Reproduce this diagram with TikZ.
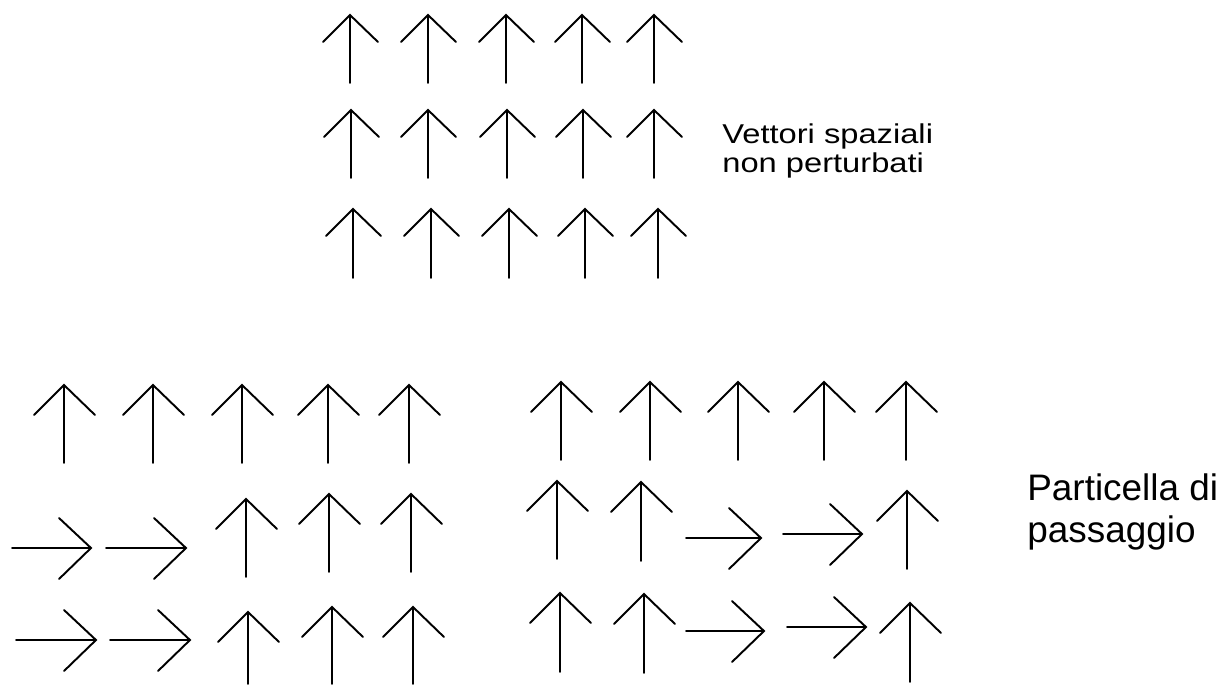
\documentclass[tikz,border=0pt]{standalone}
\usepackage{fontspec}
\setmainfont{Liberation Sans}
\newfontfamily\widesans[FakeStretch=1.2]{Liberation Sans}
\tikzset{vec/.style={line width=1.1pt,line cap=round,line join=miter}}
% up vector: x, tip y, foot y, head size
\newcommand{\vecup}[4]{\draw[vec] (#1-#4,#2+#4)--(#1,#2)--(#1+#4+1,#2+#4) (#1,#2)--(#1,#3);}
% right vector: tail x, tip x, y
\newcommand{\vecright}[3]{\draw[vec] (#2-32,#3-30)--(#2,#3)--(#2-32,#3+31) (#1,#3)--(#2,#3);}
\begin{document}
\begin{tikzpicture}
    [x=0.02cm,y=-0.02cm]
    \useasboundingbox (0,0) rectangle (1225,684);
    %unperturbed field, row 1
    \vecup{350}{15}{83}{27}
    \vecup{428}{15}{83}{27}
    \vecup{506}{15}{83}{27}
    \vecup{582}{15}{83}{27}
    \vecup{654}{15}{83}{27}
    %row 2
    \vecup{351}{110}{178}{27}
    \vecup{428}{110}{178}{27}
    \vecup{507}{110}{178}{27}
    \vecup{583}{110}{178}{27}
    \vecup{654}{110}{178}{27}
    %row 3
    \vecup{353}{209}{278}{27}
    \vecup{431}{209}{278}{27}
    \vecup{509}{209}{278}{27}
    \vecup{585}{209}{278}{27}
    \vecup{658}{209}{278}{27}
    %label top
    \node[anchor=base west,inner sep=0,font=\widesans\fontsize{15.5pt}{17pt}\selectfont] (vett) at (722,143) {Vettori spaziali};
    \node[anchor=base west,inner sep=0,font=\widesans\fontsize{15.5pt}{17pt}\selectfont] (nonpert) at (722,172) {non perturbati};
    %left field, row 1
    \vecup{64}{385}{463}{30}
    \vecup{153}{385}{463}{30}
    \vecup{242}{385}{463}{30}
    \vecup{328}{385}{463}{30}
    \vecup{409}{385}{463}{30}
    %row 2
    \vecright{12}{91}{548}
    \vecright{106}{186}{548}
    \vecup{246}{499}{577}{30}
    \vecup{329}{494}{572}{30}
    \vecup{411}{494}{572}{30}
    %row 3
    \vecright{16}{96}{640}
    \vecright{110}{190}{640}
    \vecup{248}{612}{684}{30}
    \vecup{332}{607}{684}{30}
    \vecup{413}{607}{684}{30}
    %right field, row 1
    \vecup{561}{382}{460}{30}
    \vecup{650}{382}{460}{30}
    \vecup{738}{382}{460}{30}
    \vecup{824}{382}{460}{30}
    \vecup{906}{382}{460}{30}
    %row 2
    \vecup{557}{481}{559}{30}
    \vecup{641}{482}{561}{30}
    \vecright{686}{761}{538}
    \vecright{783}{862}{534}
    \vecup{907}{491}{569}{30}
    %row 3
    \vecup{560}{593}{672}{30}
    \vecup{644}{594}{673}{30}
    \vecright{686}{764}{631}
    \vecright{787}{866}{627}
    \vecup{910}{603}{682}{30}
    %label bottom
    \node[anchor=base west,inner sep=0,font=\fontsize{21pt}{24pt}\selectfont] (part) at (1027,500) {Particella di};
    \node[anchor=base west,inner sep=0,font=\fontsize{21pt}{24pt}\selectfont] (pass) at (1027,542) {passaggio};
\end{tikzpicture}
\end{document}
